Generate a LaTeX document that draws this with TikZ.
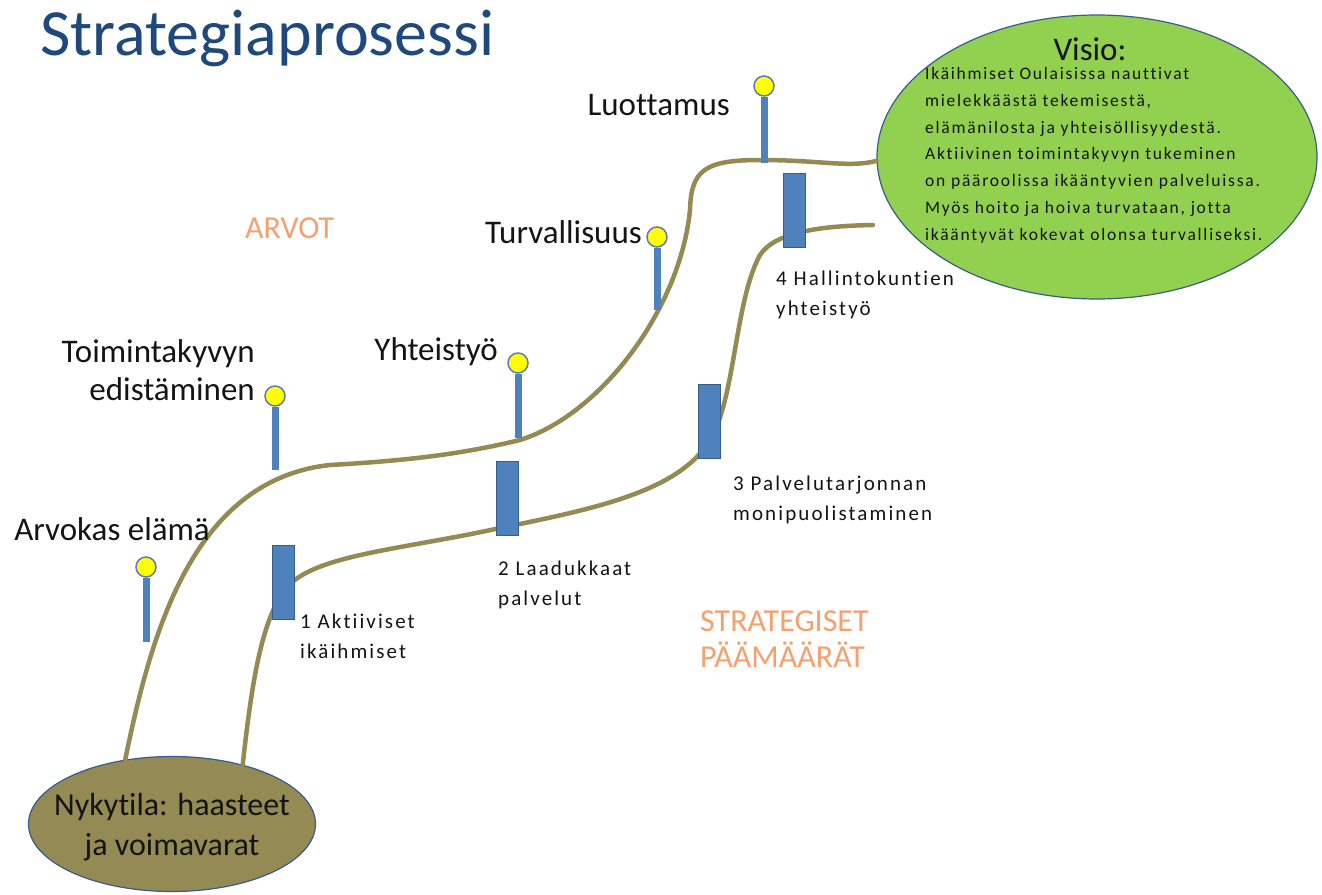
\documentclass[tikz,border=0pt]{standalone}
\usepackage{fontspec}
\setmainfont{Carlito}[Ligatures=NoCommon]
\newfontfamily\smallfont{Carlito}[LetterSpace=10, Ligatures=NoCommon]
\usetikzlibrary{positioning,shapes.geometric}
\definecolor{titleblue}{RGB}{31,73,125}
\definecolor{roadcol}{RGB}{148,138,84}
\definecolor{pinblue}{RGB}{79,129,189}
\definecolor{pinedge}{RGB}{56,93,138}
\definecolor{ballyel}{RGB}{255,255,0}
\definecolor{visiogreen}{RGB}{146,208,80}
\definecolor{orangec}{RGB}{247,160,110}
\definecolor{labcol}{RGB}{20,20,20}
\tikzset{
  roadln/.style={line width=4.5pt, draw=roadcol, line cap=round},
  pinstick/.style={line width=7pt, draw=pinblue},
  pinball/.style={circle, fill=ballyel, draw=pinedge!80, line width=1.5pt,
    minimum size=20pt, inner sep=0pt},
  stepbar/.style={rectangle, fill=pinblue, draw=pinedge, line width=1pt,
    minimum width=22pt, minimum height=74pt, inner sep=0pt},
  pinlab/.style={font=\fontsize{33}{38}\selectfont, text=labcol, align=right,
    inner sep=0pt, anchor=base east},
  steplab/.style={font=\smallfont\fontsize{21}{30}\selectfont, text=labcol,
    align=left, inner sep=0pt, anchor=base west},
  orangelab/.style={font=\fontsize{32}{36}\selectfont, text=orangec,
    align=left, inner sep=0pt, anchor=base west},
  endoval/.style={ellipse, draw=pinedge, line width=1.2pt, inner sep=0pt},
}

\begin{document}
\begin{tikzpicture}[x=1pt, y=-1pt]
    \useasboundingbox (0,0) rectangle (1322,894);
    \fill[white] (0,0) rectangle (1322,894);
    % title
    \node[font=\fontsize{66}{70}\selectfont, text=titleblue, inner sep=0pt,
      anchor=base west] (title) at (40,55) {Strategiaprosessi};
    % end points
    \node[endoval, fill=roadcol, minimum width=287pt, minimum height=135pt]
      (nyky) at (172,824) {};
    \node[align=center, font=\fontsize{32}{40}\selectfont, text=labcol,
      inner sep=0pt, anchor=base] (nykytext) at (172,855)
      {Nykytila: haasteet\\ja voimavarat};
    \node[endoval, fill=visiogreen, minimum width=440pt, minimum height=284pt]
      (visio) at (1097,157) {};
    \node[font=\fontsize{33}{36}\selectfont, text=labcol, inner sep=0pt,
      anchor=base] (visiohead) at (1090,60) {Visio:};
    \node[font=\smallfont\fontsize{17.5}{26.7}\selectfont, text=labcol,
      align=left, inner sep=0pt, anchor=base west] (visiotext) at (925,240)
      {Ikäihmiset Oulaisissa nauttivat\\
       mielekkäästä tekemisestä,\\
       elämänilosta ja yhteisöllisyydestä.\\
       Aktiivinen toimintakyvyn tukeminen\\
       on pääroolissa ikääntyvien palveluissa.\\
       Myös hoito ja hoiva turvataan, jotta\\
       ikääntyvät kokevat olonsa turvalliseksi.};
    % roads
    \coordinate (lowend) at (873,225);
    \draw[roadln] (nyky.126) .. controls (150,640) and (190,480) .. (330,465)
      .. controls (420,460) and (470,452) .. (520,440)
      .. controls (600,415) and (680,310) .. (690,210)
      .. controls (691,170) and (705,160) .. (760,160)
      .. controls (820,160) and (850,168) .. (visio.181);
    \draw[roadln] (nyky.40) .. controls (252,680) and (262,620) .. (285,590)
      .. controls (310,555) and (400,550) .. (500,528)
      .. controls (600,508) and (680,490) .. (710,440)
      .. controls (735,400) and (735,300) .. (760,255)
      .. controls (775,232) and (820,226) .. (lowend);
    % milestones
    \foreach \n/\x/\y in {1/283/582, 2/507/498, 3/709/421, 4/794/210}
      \node[stepbar] (m\n) at (\x,\y) {};
    \node[steplab] (ml1) at (300,658) {1 Aktiiviset\\ikäihmiset};
    \node[steplab] (ml2) at (498,605) {2 Laadukkaat\\palvelut};
    \node[steplab] (ml3) at (733,520) {3 Palvelutarjonnan\\monipuolistaminen};
    \node[steplab] (ml4) at (776,315) {4 Hallintokuntien\\yhteistyö};
    % values on poles
    \foreach \n/\x/\y/\yb in {1/146/567/642, 2/275/396/470, 3/518/363/438,
      4/657/237/310, 5/764/86/163} {
      \coordinate (s\n) at (\x,\yb);
      \node[pinball] (p\n) at (\x,\y) {};
      \draw[pinstick] (p\n.south) -- (s\n);
    }
    \node[pinlab] (pl1) at (210,540) {Arvokas elämä};
    \node[pinlab] (pl2) at (255,400) {Toimintakyvyn\\edistäminen};
    \node[pinlab] (pl3) at (498,360) {Yhteistyö};
    \node[pinlab] (pl4) at (642,243) {Turvallisuus};
    \node[pinlab] (pl5) at (730,115) {Luottamus};
    \node[orangelab] (arvot) at (245,238) {ARVOT};
    \node[orangelab] (paamaarat) at (700,667) {STRATEGISET\\PÄÄMÄÄRÄT};
  \end{tikzpicture}
\end{document}
